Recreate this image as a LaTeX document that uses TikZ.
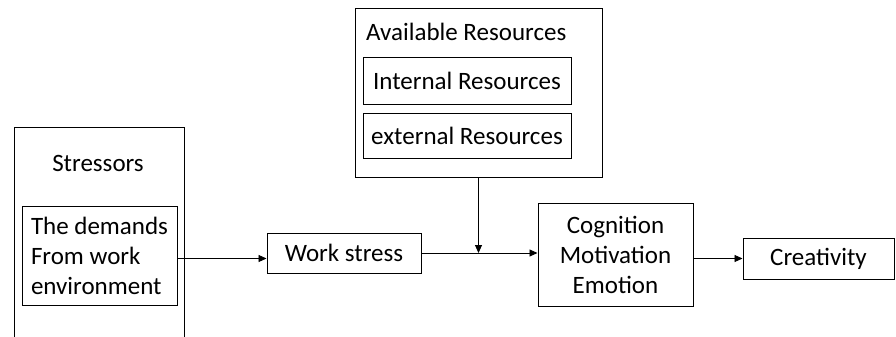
\documentclass[tikz,border=0pt]{standalone}
\usepackage{fontspec}
\setmainfont{Carlito}
\usepackage{tikz}
\usetikzlibrary{positioning,arrows.meta}

\begin{document}
\begin{tikzpicture}[x=1pt, y=-1pt, every node/.style={font=\fontsize{25}{30}\selectfont},
  box/.style={rectangle, draw, line width=1pt, inner sep=0pt},
  lbl/.style={inner sep=0pt},
  arr/.style={-{Triangle[length=8pt, width=7pt]}, line width=0.9pt}]
  \clip (0,0) rectangle (896,337);
  % Stressors block (runs off the bottom edge)
  \node[box, minimum width=170, minimum height=233] (str) at (99,243.5) {};
  \node[lbl] (strtitle) at (98,163) {Stressors};
  \node[box, minimum width=155, minimum height=99, align=left] (dem) at (99.5,255.5)
    {The demands\\From work\\environment};
  % Resources block
  \node[box, minimum width=247, minimum height=168] (res) at (478.5,93) {};
  \node[lbl, anchor=west] (restitle) at (366,32) {Available Resources};
  \node[box, minimum width=208, minimum height=46] (int) at (467,81) {Internal Resources};
  \node[box, minimum width=208, minimum height=45] (ext) at (467,135.5) {external Resources};
  % Chain on the right
  \node[box, minimum width=154, minimum height=40] (work) at (344,253) {Work stress};
  \node[box, minimum width=155, minimum height=103, align=center] (cog) at (615.5,254.5)
    {Cognition\\Motivation\\Emotion};
  \node[box, minimum width=151, minimum height=41] (crea) at (818.5,258.5) {Creativity};
  % Connectors
  \coordinate (mid) at (res.south |- work.east);
  \draw[arr] ([yshift=-3pt]dem.east) -- ([yshift=-3pt]dem.east -| work.west);
  \draw[arr] (work.east) -- (work.east -| cog.west);
  \draw[arr] (res.south) -- (mid);
  \draw[arr] (cog.east |- crea.west) -- (crea.west);
\end{tikzpicture}
\end{document}
